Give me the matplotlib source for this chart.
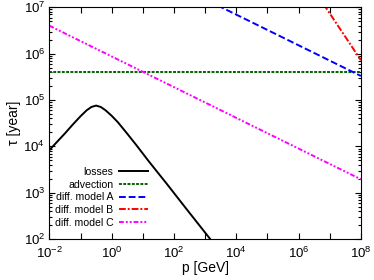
import matplotlib
matplotlib.use("Agg")
import matplotlib.pyplot as plt
from matplotlib.ticker import LogLocator, FuncFormatter, NullLocator
import numpy as np

plt.rcParams['font.family'] = ['Liberation Sans', 'DejaVu Sans']
plt.rcParams['mathtext.fontset'] = 'custom'
plt.rcParams['mathtext.rm'] = 'Liberation Sans'
plt.rcParams['mathtext.it'] = 'Liberation Sans:italic'

# values (log10 of p and tau for the loss curve)
logp_loss = [-2.0, -1.75, -1.5, -1.25, -1.0, -0.8, -0.65, -0.5, -0.35, -0.2,
             0.0, 0.2, 0.48, 0.8, 1.2, 1.76, 2.4, 3.0, 3.4]
logtau_loss = [3.92, 4.10, 4.28, 4.47, 4.65, 4.78, 4.85, 4.88, 4.85, 4.78,
               4.66, 4.52, 4.29, 4.02, 3.67, 3.20, 2.65, 2.14, 1.80]

p_adv = [1e-2, 1e8]
tau_adv = [4.0e5, 4.0e5]

p_A = [10**3.4, 1e8]
tau_A = [10**7.04, 3.3e5]

p_B = [10**6.8, 1e8]
tau_B = [10**7.07, 7.2e5]

p_C = [1e-2, 1e8]
tau_C = [4.0e6, 1.95e3]

fig = plt.figure(figsize=(3.74, 2.8), dpi=100)
ax = fig.add_axes([0.132, 0.146, 0.833, 0.828])

lw = 1.4
ax.plot(10 ** np.array(logp_loss), 10 ** np.array(logtau_loss), color='black', lw=lw,
        label='losses', solid_joinstyle='round')
ax.plot(p_adv, tau_adv, color='#006400', lw=lw, dashes=(1.5, 0.7), label='advection')
ax.plot(p_A, tau_A, color='#0000ff', lw=lw, dashes=(3.5, 1.5), label='diff. model A')
ax.plot(p_B, tau_B, color='#ff0000', lw=lw, dashes=(3.5, 1.0, 1.0, 1.0), label='diff. model B')
ax.plot(p_C, tau_C, color='#ff00ff', lw=lw, dashes=(2.5, 1.0, 1.0, 1.0, 1.0, 1.0), label='diff. model C')

ax.set_xscale('log')
ax.set_yscale('log')
ax.set_xlim(1e-2, 1e8)
ax.set_ylim(1e2, 1e7)

ax.xaxis.set_major_locator(LogLocator(base=10, numticks=20))
ax.xaxis.set_minor_locator(NullLocator())


def xfmt(v, pos):
    e = int(round(np.log10(v)))
    if e % 2:
        return ''
    return '10$^{%d}$' % e


def yfmt(v, pos):
    e = int(round(np.log10(v)))
    return '10$^{%d}$' % e


ax.xaxis.set_major_formatter(FuncFormatter(xfmt))
ax.yaxis.set_major_formatter(FuncFormatter(yfmt))
ax.yaxis.set_minor_locator(LogLocator(base=10, subs=np.arange(2, 10), numticks=20))
ax.yaxis.set_minor_formatter(FuncFormatter(lambda v, p: ''))

ax.tick_params(which='both', direction='in', top=True, right=True, labelsize=9.5)
ax.tick_params(axis='x', pad=5)
ax.tick_params(axis='y', pad=3)
ax.tick_params(which='major', length=4, width=0.8)
ax.tick_params(which='minor', length=2, width=0.8)

ax.set_xlabel('p [GeV]', fontsize=10, labelpad=0)
ax.set_ylabel('τ [year]', fontsize=10, labelpad=2)

ax.legend(loc='upper right', bbox_to_anchor=(0.317, 0.312), frameon=False,
          markerfirst=False, fontsize=7.6, handlelength=2.8, handletextpad=0.5,
          labelspacing=0.26, borderpad=0, borderaxespad=0)

fig.savefig('out.png', dpi=100)
